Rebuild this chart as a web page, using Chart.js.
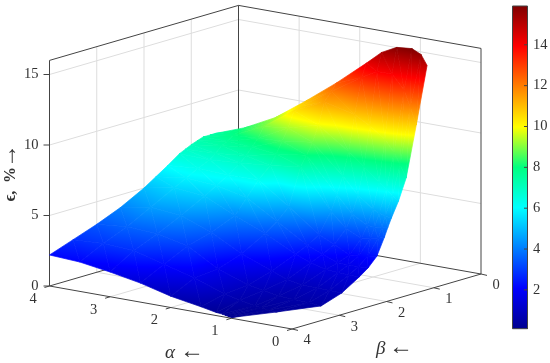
<!DOCTYPE html>
<html lang="en">

<head>
    <meta charset="UTF-8">
    <title>Surface</title>
    <style>
        body { margin: 0; background: #fff; }
        canvas { display: block; }
    </style>
    <script src="https://cdn.jsdelivr.net/npm/chart.js"></script>
</head>

<body>
    <canvas id="grafico" width="550" height="363"></canvas>
</body>

</html>
<script>

    // values
    const betaRows = [0.5, 0.6, 0.75, 0.875, 1, 1.125, 1.25, 1.5, 1.75, 2, 2.5, 3, 3.5, 4];
    const alphaHead = [4, 3.5, 3, 2.5, 2, 1.5];
    const alphaTail = [
        [1.25, 1, 0.75, 0.6, 0.5],
        [1.25, 1, 0.8, 0.7, 0.6],
        [1.25, 1, 0.85, 0.75, 0.65],
        [1.25, 1, 0.88, 0.78, 0.68],
        [1.25, 1, 0.9, 0.8, 0.7],
        [1.25, 1, 0.88, 0.76, 0.66],
        [1.25, 1, 0.85, 0.72, 0.62],
        [1.25, 1, 0.85, 0.7, 0.55],
        [1.25, 1, 0.83, 0.66, 0.5],
        [1.25, 1, 0.8, 0.62, 0.45],
        [1.25, 1, 0.75, 0.55, 0.35],
        [1.25, 1, 0.75, 0.5, 0.3],
        [1.25, 1, 0.9, 0.78, 0.65],
        [1.25, 1.15, 1.1, 1.05, 1]
    ];
    const epsilon = [
        [7.4, 8.2, 9.3, 10.85, 12.5, 14.3, 15.25, 15.8, 15.9, 15.6, 14.9],
        [7.4, 8.1, 9.1, 10.6, 12.0, 13.4, 14.0, 14.0, 13.0, 11.9, 10.7],
        [7.4, 7.9, 8.9, 10.4, 11.4, 10.9, 10.3, 9.5, 8.7, 7.9, 7.05],
        [7.25, 7.6, 8.2, 9.3, 9.9, 8.4, 7.5, 6.6, 6.2, 5.8, 5.5],
        [7.1, 7.4, 7.7, 8.5, 8.8, 6.8, 5.6, 4.8, 4.6, 4.5, 4.4],
        [6.9, 7.0, 7.2, 7.7, 8.0, 5.6, 4.4, 3.8, 3.75, 3.8, 3.9],
        [6.7, 6.65, 6.8, 7.0, 7.3, 4.5, 3.5, 3.0, 3.1, 3.2, 3.35],
        [6.1, 6.3, 6.2, 6.25, 4.7, 3.1, 2.6, 2.05, 2.1, 2.2, 2.3],
        [5.55, 5.85, 5.7, 5.2, 3.9, 2.6, 2.15, 1.75, 1.72, 1.72, 1.75],
        [5.0, 5.4, 5.2, 4.2, 3.3, 2.2, 1.8, 1.5, 1.45, 1.4, 1.4],
        [4.1, 4.5, 4.3, 3.5, 2.35, 1.5, 1.1, 0.9, 0.87, 0.85, 0.82],
        [3.4, 3.6, 3.5, 3.0, 1.75, 1.0, 0.8, 0.6, 0.55, 0.5, 0.43],
        [2.8, 2.9, 2.8, 2.2, 1.6, 0.85, 0.6, 0.4, 0.33, 0.27, 0.22],
        [2.2, 2.08, 1.75, 1.35, 0.8, 0.43, 0.22, 0.18, 0.13, 0.09, 0.05]
    ];
    const zTicks = [0, 5, 10, 15];
    const alphaTicks = [0, 1, 2, 3, 4];
    const betaTicks = [0, 1, 2, 3, 4];
    const barTicks = [2, 4, 6, 8, 10, 12, 14];
    const zTop = 16;
    const barMin = 0.1;
    const barMax = 15.9;

    const jetStops = [
        [0, '#00008f'], [0.125, '#0000ff'], [0.375, '#00ffff'],
        [0.5, '#00ff80'], [0.625, '#ffff00'], [0.875, '#ff0000'], [1, '#800000']
    ];
    const eixo = '#444444';
    const grade = '#dddddd';
    const texto = '#333333';

    // camera of the box: (alpha, beta, z) to a position on the picture
    function projetar(a, b, z) {
        return {
            x: 481 - 60.625 * a - 47.25 * b,
            y: 274 - 10.75 * a + 13.75 * b - 14.1 * z
        };
    }

    function barY(v) {
        return 6 + (barMax - v) / (barMax - barMin) * 322.7;
    }

    function segmento(p, q, cor, largura) {
        return {
            data: [p, q], showLine: true, pointRadius: 0, borderColor: cor,
            borderWidth: largura, fill: false
        };
    }

    function corDe(f) {
        for (let i = 1; i < jetStops.length; i++) {
            if (f <= jetStops[i][0]) {
                const a = jetStops[i - 1], c = jetStops[i];
                const t = (f - a[0]) / (c[0] - a[0]);
                const n = function (s, k) { return parseInt(s.substr(k, 2), 16); };
                const mix = function (k) { return Math.round(n(a[1], k) + (n(c[1], k) - n(a[1], k)) * t); };
                return `rgb(${mix(1)},${mix(3)},${mix(5)})`;
            }
        }
        return jetStops[jetStops.length - 1][1];
    }

    // gradient running from value v0 at p0 to value v1 at p1, jet colours in between
    function rampa(ctx, p0, p1, v0, v1) {
        let g = ctx.createLinearGradient(p0.x, p0.y, p1.x, p1.y);
        const f0 = Math.max((v0 - barMin) / (barMax - barMin), 0);
        const f1 = Math.min((v1 - barMin) / (barMax - barMin), 1);
        g.addColorStop(0, corDe(f0));
        g.addColorStop(1, corDe(f1));
        if (f1 - f0 > 1e-6) {
            jetStops.forEach(function (s) {
                if (s[0] > f0 && s[0] < f1) {
                    g.addColorStop((s[0] - f0) / (f1 - f0), corDe(s[0]));
                }
            });
        }
        return g;
    }

    // exact linear gradient of z over one triangle, so neighbouring triangles meet without a seam
    function triangulo(ctx, t) {
        const ord = t.slice().sort(function (m, n) { return m.z - n.z; });
        const A = projetar(ord[0].a, ord[0].b, ord[0].z);
        const B = projetar(ord[1].a, ord[1].b, ord[1].z);
        const C = projetar(ord[2].a, ord[2].b, ord[2].z);
        const zAC = ord[2].z - ord[0].z;
        if (zAC < 1e-6) return rampa(ctx, A, C, ord[0].z, ord[0].z);
        const f = (ord[1].z - ord[0].z) / zAC;
        const M = { x: A.x + (C.x - A.x) * f, y: A.y + (C.y - A.y) * f };
        const dx = B.x - M.x, dy = B.y - M.y;
        const nn = dx * dx + dy * dy;
        if (nn < 1e-6) return rampa(ctx, A, C, ord[0].z, ord[2].z);
        const nx = -dy, ny = dx;
        const s = ((C.x - A.x) * nx + (C.y - A.y) * ny) / nn;
        return rampa(ctx, A, { x: A.x + nx * s, y: A.y + ny * s }, ord[0].z, ord[2].z);
    }

    function montarDatasets() {
        let dados = [];
        const p = projetar;

        // walls and floor
        zTicks.slice(1).forEach(function (z) {
            dados.push(segmento(p(4, 4, z), p(4, 0, z), grade, 1));
            dados.push(segmento(p(4, 0, z), p(0, 0, z), grade, 1));
        });
        [1, 2, 3].forEach(function (v) {
            dados.push(segmento(p(4, v, 0), p(4, v, zTop), grade, 1));
            dados.push(segmento(p(v, 0, 0), p(v, 0, zTop), grade, 1));
            dados.push(segmento(p(v, 0, 0), p(v, 4, 0), grade, 1));
            dados.push(segmento(p(0, v, 0), p(4, v, 0), grade, 1));
        });
        [[4, 4], [4, 0], [0, 0]].forEach(function (c) {
            dados.push(segmento(p(c[0], c[1], 0), p(c[0], c[1], zTop), eixo, 1));
        });
        dados.push(segmento(p(4, 4, zTop), p(4, 0, zTop), eixo, 1));
        dados.push(segmento(p(4, 0, zTop), p(0, 0, zTop), eixo, 1));
        dados.push(segmento(p(4, 4, 0), p(4, 0, 0), eixo, 1));
        dados.push(segmento(p(4, 0, 0), p(0, 0, 0), eixo, 1));
        dados.push(segmento(p(4, 4, 0), p(0, 4, 0), eixo, 1));
        dados.push(segmento(p(0, 4, 0), p(0, 0, 0), eixo, 1));

        // axis tick marks
        zTicks.forEach(function (z) {
            const q = p(4, 4, z);
            dados.push(segmento(q, { x: q.x - 6, y: q.y }, eixo, 1));
        });
        alphaTicks.forEach(function (a) {
            const q = p(a, 4, 0);
            dados.push(segmento(q, { x: q.x - 5, y: q.y + 1.5 }, eixo, 1));
        });
        betaTicks.forEach(function (b) {
            const q = p(0, b, 0);
            dados.push(segmento(q, { x: q.x + 6, y: q.y + 1.4 }, eixo, 1));
        });

        // surface, far rows first
        for (let j = 0; j < betaRows.length - 1; j++) {
            for (let i = 0; i < epsilon[j].length - 1; i++) {
                const v = function (jj, ii) {
                    const a = ii < alphaHead.length ? alphaHead[ii] : alphaTail[jj][ii - alphaHead.length];
                    return { a: a, b: betaRows[jj], z: epsilon[jj][ii] };
                };
                const q = [v(j, i), v(j, i + 1), v(j + 1, i + 1), v(j + 1, i)];
                [[q[0], q[1], q[2]], [q[0], q[2], q[3]]].forEach(function (t) {
                    const pts = t.map(function (u) { return p(u.a, u.b, u.z); });
                    pts.push(pts[0]);
                    const cor = function (c) { return triangulo(c.chart.ctx, t); };
                    dados.push({
                        data: pts, showLine: true, pointRadius: 0, tension: 0,
                        borderWidth: 0.7, borderColor: cor, backgroundColor: cor, fill: 'shape'
                    });
                });
            }
        }

        // colour bar
        const barra = [{ x: 512.5, y: barY(barMax) }, { x: 527.5, y: barY(barMax) }, { x: 527.5, y: barY(barMin) }, { x: 512.5, y: barY(barMin) }, { x: 512.5, y: barY(barMax) }];
        const corBarra = function (c) {
            return rampa(c.chart.ctx, { x: 0, y: barY(barMin) }, { x: 0, y: barY(barMax) }, barMin, barMax);
        };
        dados.push({
            data: barra, showLine: true, pointRadius: 0, borderWidth: 0,
            backgroundColor: corBarra, fill: 'shape'
        });
        dados.push({ data: barra, showLine: true, pointRadius: 0, borderWidth: 1, borderColor: eixo, fill: false });
        barTicks.forEach(function (v) {
            dados.push(segmento({ x: 524, y: barY(v) }, { x: 527.5, y: barY(v) }, eixo, 1));
        });

        // chart.js draws the first dataset on top
        return dados.reverse();
    }

    const textos = {
        id: 'textos',
        afterDraw(chart) {
            const ctx = chart.ctx;
            const xs = chart.scales.x, ys = chart.scales.y;
            ctx.save();
            ctx.fillStyle = texto;
            ctx.textBaseline = 'middle';
            ctx.font = '14.5px "Liberation Serif"';

            ctx.textAlign = 'right';
            zTicks.forEach(function (z) {
                const q = projetar(4, 4, z);
                ctx.fillText(String(z), xs.getPixelForValue(q.x - 11), ys.getPixelForValue(q.y));
            });
            ctx.textAlign = 'center';
            alphaTicks.forEach(function (a) {
                const q = projetar(a, 4, 0);
                ctx.fillText(String(a), xs.getPixelForValue(q.x - 16.5), ys.getPixelForValue(q.y + 13));
            });
            betaTicks.forEach(function (b) {
                const q = projetar(0, b, 0);
                ctx.fillText(String(b), xs.getPixelForValue(q.x + 15), ys.getPixelForValue(q.y + 11.5));
            });
            ctx.textAlign = 'left';
            barTicks.forEach(function (v) {
                ctx.fillText(String(v), xs.getPixelForValue(533), ys.getPixelForValue(barY(v)));
            });

            ctx.font = 'italic 19px "Liberation Serif"';
            ctx.textAlign = 'left';
            ctx.fillText('α', 165, 353);
            ctx.fillText('β', 376, 349);
            ctx.font = '24px "Liberation Serif"';
            ctx.fillText('←', 180, 352);
            ctx.fillText('←', 389, 348);

            ctx.save();
            ctx.translate(11, 178);
            ctx.rotate(-Math.PI / 2);
            ctx.textAlign = 'center';
            ctx.font = 'bold 16px "Liberation Serif"';
            ctx.fillText('ϵ,', -18, 0);
            ctx.fillText('%', 3, 0);
            ctx.font = '24px "Liberation Serif"';
            ctx.fillText('→', 22, -1);
            ctx.restore();
            ctx.restore();
        }
    };

    new Chart(document.getElementById('grafico'), {
        type: 'scatter',
        data: { datasets: montarDatasets() },
        options: {
            responsive: false,
            animation: false,
            layout: { padding: 0 },
            plugins: { legend: { display: false }, tooltip: { enabled: false } },
            scales: {
                x: { type: 'linear', display: false, min: 0, max: 550 },
                y: { type: 'linear', display: false, min: 0, max: 363, reverse: true }
            }
        },
        plugins: [textos]
    });

</script>
